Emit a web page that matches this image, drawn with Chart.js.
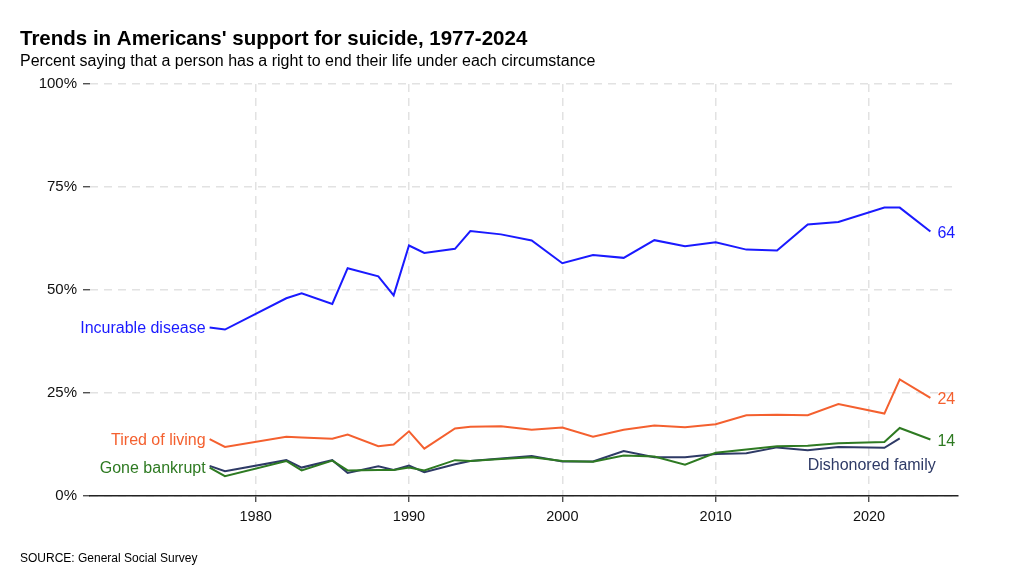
<!DOCTYPE html>
<html>
<head>
<meta charset="utf-8">
<script src="https://cdn.jsdelivr.net/npm/chart.js@4/dist/chart.umd.min.js"></script>
<style>
  html, body { margin: 0; padding: 0; background: #fff; }
  #wrap { width: 1024px; height: 588px; position: relative; }
</style>
</head>
<body>
<div id="wrap"><canvas id="grafico"></canvas></div>
<script>
// Anos da pesquisa (GSS)
const anos = [1977, 1978, 1982, 1983, 1985, 1986, 1988, 1989, 1990, 1991, 1993, 1994, 1996, 1998,
              2000, 2002, 2004, 2006, 2008, 2010, 2012, 2014, 2016, 2018, 2021, 2022, 2024];

// Valores (%)
const doencaIncuravel = [40.9, 40.4, 48.0, 49.2, 46.6, 55.3, 53.3, 48.7, 60.8, 59.0, 60.0, 64.3, 63.5, 62.0,
                         56.5, 58.5, 57.8, 62.1, 60.6, 61.6, 59.8, 59.6, 65.9, 66.5, 70.0, 70.0, 64.2];
const cansadoDeViver = [13.8, 11.9, 14.4, 14.2, 13.9, 14.9, 12.1, 12.5, 15.7, 11.5, 16.4, 16.8, 16.9, 16.1,
                        16.6, 14.4, 16.1, 17.1, 16.7, 17.4, 19.6, 19.7, 19.6, 22.3, 20.0, 28.3, 23.8];
const falencia = [6.9, 4.8, 8.5, 6.2, 8.6, 6.2, 6.3, 6.3, 6.9, 6.2, 8.7, 8.5, 9.0, 9.4,
                  8.5, 8.3, 9.8, 9.6, 7.6, 10.5, 11.3, 12.1, 12.2, 12.8, 13.1, 16.5, 13.7];
const desonraFamilia = [7.3, 6.0, 8.7, 6.9, 8.7, 5.6, 7.2, 6.3, 7.4, 5.8, 7.7, 8.5, 9.1, 9.7,
                        8.4, 8.4, 10.9, 9.4, 9.4, 10.2, 10.4, 11.8, 11.1, 11.9, 11.7, 14.0, null];

const ticksX = [1980, 1990, 2000, 2010, 2020];
const ticksY = [0, 25, 50, 75, 100];

const fonte = '"Liberation Sans", Arial, Helvetica, sans-serif';

function pontos(valores) {
    return anos.map((a, i) => ({ x: a, y: valores[i] })).filter(p => p.y !== null);
}

// Séries: nome, valores, cor, posição do rótulo
const series = [
    { nome: 'Incurable disease', valores: doencaIncuravel, cor: '#1a1aff', rotulo: 'inicio' },
    { nome: 'Tired of living', valores: cansadoDeViver, cor: '#f4602f', rotulo: 'inicio' },
    { nome: 'Gone bankrupt', valores: falencia, cor: '#2e7a22', rotulo: 'inicio' },
    { nome: 'Dishonored family', valores: desonraFamilia, cor: '#2e3a66', rotulo: 'abaixo' }
];

// Plugin para títulos, fonte e rótulos das linhas
const textos = {
    id: 'textos',
    afterDraw(chart) {
        const ctx = chart.ctx;
        const sx = chart.scales.x, sy = chart.scales.y;
        ctx.save();
        ctx.textBaseline = 'alphabetic';
        ctx.textAlign = 'left';
        ctx.fillStyle = '#000';
        ctx.font = 'bold 20.5px ' + fonte;
        ctx.fillText("Trends in Americans' support for suicide, 1977-2024", 20, 45);
        ctx.font = '16px ' + fonte;
        ctx.fillText('Percent saying that a person has a right to end their life under each circumstance', 20, 66);
        ctx.font = '12px ' + fonte;
        ctx.fillText('SOURCE: General Social Survey', 20, 562);

        ctx.textBaseline = 'middle';
        series.forEach(s => {
            const pts = pontos(s.valores);
            const primeiro = pts[0], ultimo = pts[pts.length - 1];
            ctx.fillStyle = s.cor;
            ctx.font = '16px ' + fonte;
            if (s.rotulo === 'inicio') {
                ctx.textAlign = 'right';
                ctx.fillText(s.nome, sx.getPixelForValue(primeiro.x) - 4, sy.getPixelForValue(primeiro.y) + 1);
                ctx.textAlign = 'left';
                ctx.fillText(String(Math.round(ultimo.y)), sx.getPixelForValue(ultimo.x) + 7, sy.getPixelForValue(ultimo.y) + 2);
            } else {
                ctx.textAlign = 'right';
                ctx.fillText(s.nome, sx.getPixelForValue(ultimo.x) + 36, sy.getPixelForValue(ultimo.y) + 27);
            }
        });
        ctx.restore();
    }
};

new Chart(document.getElementById('grafico'), {
    type: 'line',
    data: {
        datasets: series.map(s => ({
            label: s.nome,
            data: pontos(s.valores),
            borderColor: s.cor,
            borderWidth: 2,
            pointRadius: 0,
            tension: 0,
            fill: false
        }))
    },
    options: {
        responsive: true,
        maintainAspectRatio: false,
        animation: false,
        layout: { padding: { top: 84, right: 66, left: 0, bottom: 0 } },
        plugins: {
            legend: { display: false },
            tooltip: { enabled: false }
        },
        scales: {
            x: {
                type: 'linear',
                min: 1969.2,
                max: 2025.8,
                afterBuildTicks: scale => { scale.ticks = ticksX.map(v => ({ value: v })); },
                afterFit: scale => { scale.height = 92; },
                ticks: {
                    callback: v => String(v),
                    color: '#111',
                    font: { family: fonte, size: 14.5 },
                    padding: 6,
                    maxRotation: 0
                },
                grid: {
                    color: '#e2e2e2',
                    lineWidth: 1.5,
                    tickColor: '#333',
                    tickLength: 6,
                    tickWidth: 1.2,
                    tickBorderDash: []
                },
                border: { display: true, color: '#222', width: 1.5, dash: [8, 6] }
            },
            y: {
                min: 0,
                max: 100,
                afterBuildTicks: scale => { scale.ticks = ticksY.map(v => ({ value: v })); },
                afterFit: scale => { scale.width = 90; },
                ticks: {
                    callback: v => v + '%',
                    color: '#111',
                    font: { family: fonte, size: 15 },
                    padding: 6
                },
                grid: {
                    color: '#e2e2e2',
                    lineWidth: 1.5,
                    tickColor: '#333',
                    tickLength: 7,
                    tickWidth: 1.2,
                    tickBorderDash: []
                },
                border: { display: false, dash: [8, 6] }
            }
        }
    },
    plugins: [textos]
});
</script>
</body>
</html>
